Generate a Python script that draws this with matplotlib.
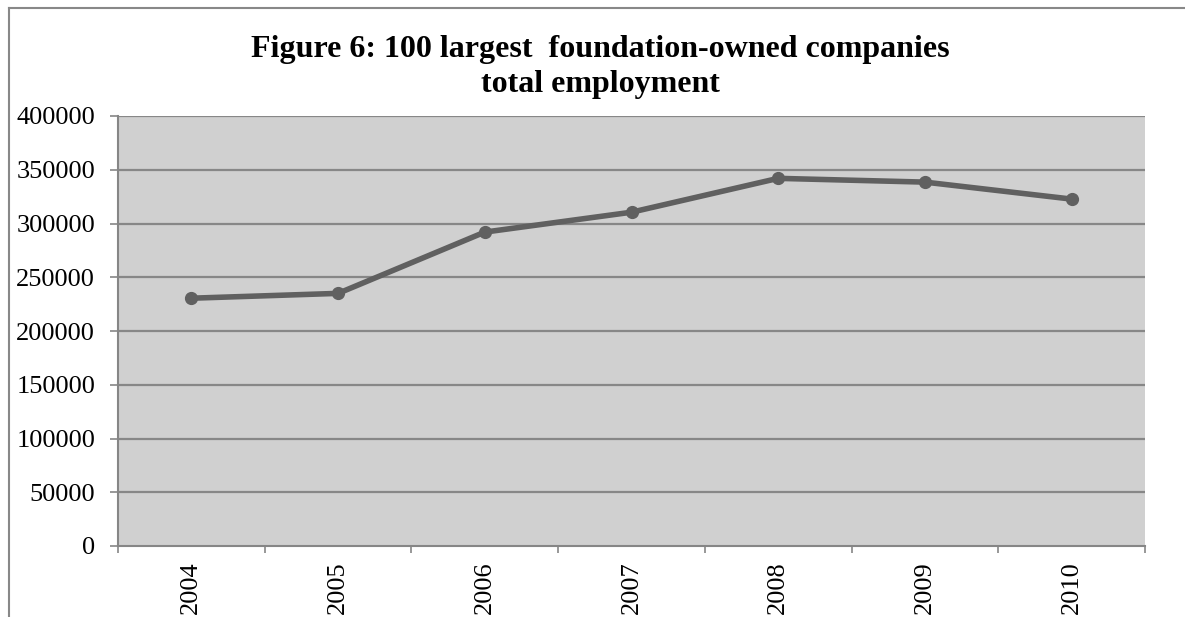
import matplotlib
matplotlib.use("Agg")
import matplotlib.pyplot as plt
import numpy as np
from matplotlib.lines import Line2D

years = ["2004", "2005", "2006", "2007", "2008", "2009", "2010"]
employment = [230500, 235000, 292000, 310500, 342000, 338500, 322700]

plt.rcParams['font.family'] = ['Liberation Serif', 'DejaVu Serif']

W, H = 1185, 617
fig = plt.figure(figsize=(W / 100, H / 100), dpi=100)
fig.patch.set_facecolor("white")

# plot area in pixel coords
left, right, top, bottom = 118, 1145, 116, 546
ax = fig.add_axes([left / W, 1 - bottom / H, (right - left) / W, (bottom - top) / H])
ax.set_facecolor("#d0d0d0")

x = np.arange(len(years))
ax.set_xlim(-0.5, len(years) - 0.5)
ax.set_ylim(0, 400000)

yt = np.arange(0, 400001, 50000)
for v in yt[1:]:
    ax.axhline(v, color="#878787", lw=1.6, zorder=1)

ax.plot(x, employment, color="#606060", lw=4, marker="o", ms=8.5, zorder=3)

ax.set_yticks(yt)
ax.set_yticklabels([str(v) for v in yt])
ax.set_xticks(np.arange(len(years) + 1) - 0.5)
ax.set_xticklabels([])
ax.set_xticks(x, minor=True)
ax.set_xticklabels(years, minor=True, rotation=90, va="top", ha="center")

ax.tick_params(axis="y", which="major", length=6, width=1.2, color="#868686",
               labelsize=19, pad=10.5)
ax.tick_params(axis="x", which="major", length=5, width=1.2, color="#868686", direction="out")
ax.tick_params(axis="x", which="minor", length=0, labelsize=19, pad=11)

for side in ["top", "right"]:
    ax.spines[side].set_visible(False)
for side in ["left", "bottom"]:
    ax.spines[side].set_color("#868686")
    ax.spines[side].set_linewidth(1.5)

fig.text(600 / W, 1 - 67 / H,
         "Figure 6: 100 largest  foundation-owned companies\ntotal employment",
         ha="center", va="center", fontsize=23, fontweight="bold",
         linespacing=1.3)

# outer chart border (left and top edges)
fig.add_artist(Line2D([8.5 / W, 8.5 / W], [0, 1 - 7.5 / H], transform=fig.transFigure,
                      color="#888888", lw=1.5))
fig.add_artist(Line2D([8.5 / W, 1], [1 - 7.5 / H, 1 - 7.5 / H], transform=fig.transFigure,
                      color="#888888", lw=1.5))

fig.savefig("out.png", dpi=100)
